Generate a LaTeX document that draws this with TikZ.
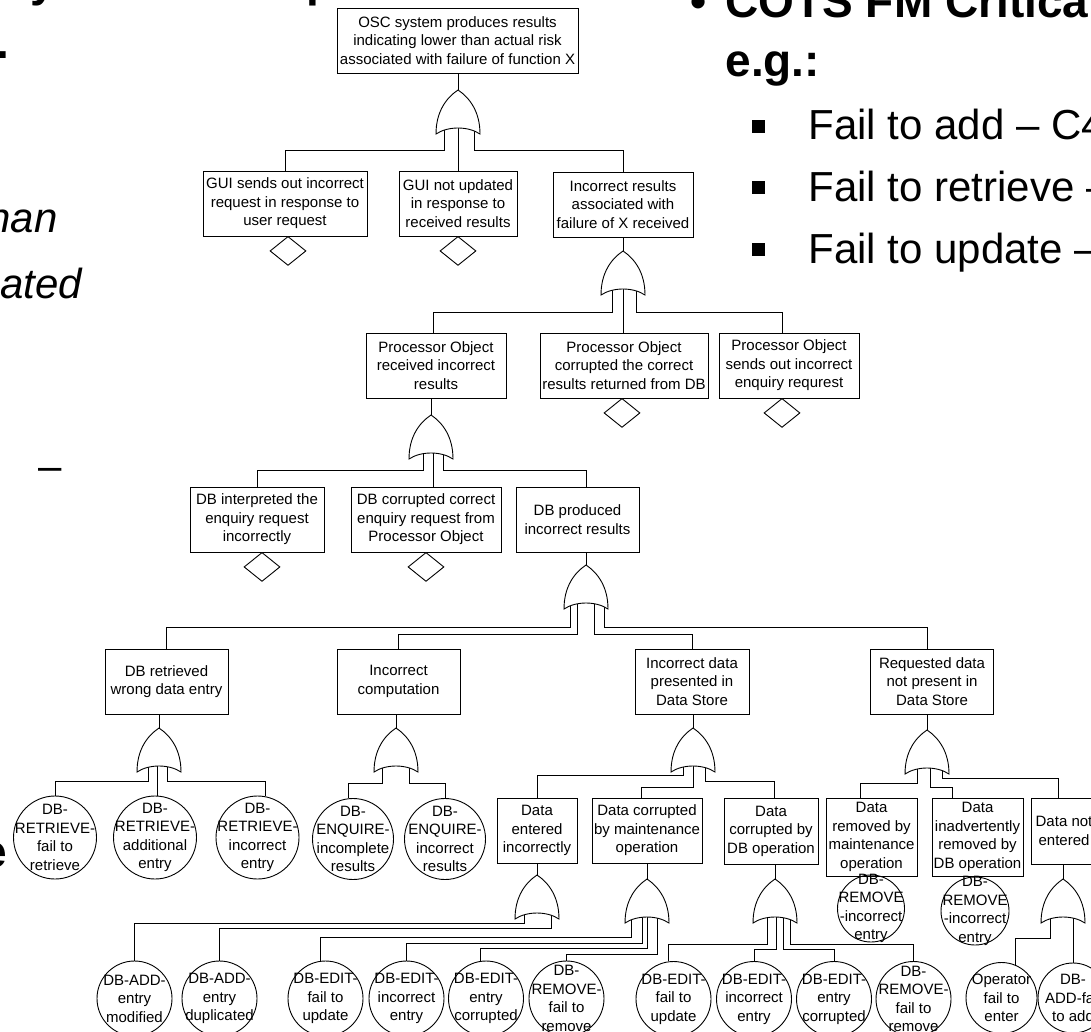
\documentclass[tikz,border=0pt]{standalone}
\usepackage{fontspec}
\setmainfont{Liberation Sans}
\usetikzlibrary{shapes.geometric,calc}
\begin{document}
\begin{tikzpicture}[x=1pt,y=-1pt,line width=0.9pt,
  every node/.style={inner sep=0pt},
  evbox/.style={draw,rectangle,fill=white,align=center,font=\fontsize{15}{18.5}\selectfont},
  evc/.style={draw,circle,minimum size=#1},
  evt/.style={align=center,font=\fontsize{15}{18.5}\selectfont},
  undev/.style={draw,diamond,fill=white,minimum width=36pt,minimum height=29pt,anchor=north},
  bsq/.style={fill=black,minimum size=13pt},
  slide/.style={font=\fontsize{42}{50}\selectfont},
  slideb/.style={font=\bfseries\fontsize{46}{55}\selectfont},
  slidei/.style={font=\itshape\fontsize{42}{50}\selectfont},
  orgate/.pic={\draw[fill=white] (-22,44) .. controls (-22,22) and (-12,8) .. (0,0)
      .. controls (12,8) and (22,22) .. (22,44)
      .. controls (10,36) and (-10,36) .. (-22,44) -- cycle;}
]
\useasboundingbox (0,0) rectangle (1091,1032);
\fill[white] (0,0) rectangle (1091,1032);

% ---------- slide text behind the diagram ----------
\node[slideb,anchor=base west] (s0) at (690,18) {\textbullet};
\node[slideb,anchor=base west] (s1) at (725,18) {COTS FM Critica};
\node[slideb,anchor=base west] (s2) at (725,77) {e.g.:};
\node[bsq] (q1) at (758.5,126.5) {};
\node[bsq] (q2) at (758.5,188) {};
\node[bsq] (q3) at (758.5,249.5) {};
\node[slide,anchor=base west] (s3) at (808,140) {Fail to add -- C4};
\node[slide,anchor=base west] (s4) at (808,202) {Fail to retrieve --};
\node[slide,anchor=base west] (s5) at (808,263) {Fail to update --};
\node[slideb,anchor=base west] (s11) at (30,-3) {y};
\node[slideb,anchor=base west] (s12) at (306,-3) {p};
\node[slideb,anchor=base west] (s6) at (-4,59) {.};
\node[slidei,anchor=base east] (s7) at (58,233) {than};
\node[slidei,anchor=base west] (s8) at (0,298) {ated};
\node[slide,anchor=base west] (s9) at (38,480) {--};
\node[slideb,anchor=base east] (s10) at (8,867) {e};

% ---------- gate positions (apex) ----------
\coordinate (g1) at (458,90);
\coordinate (g2) at (623,251);
\coordinate (g3) at (431,415);
\coordinate (g4) at (586,565);
\coordinate (g5) at (159,728);
\coordinate (g6) at (396,728);
\coordinate (g7) at (693,728);
\coordinate (g8) at (927,730);
\coordinate (g9) at (1063,879);
\coordinate (g10) at (537,875);
\coordinate (g11) at (647,879);
\coordinate (g12) at (775,879);

% ---------- events ----------
\node[evbox,minimum width=241pt,minimum height=65pt] (T0) at (457.5,40.5) {OSC system produces results\\indicating lower than actual risk\\associated with failure of function X};
\node[evbox,minimum width=164pt,minimum height=65pt] (A1) at (285,203.5) {GUI sends out incorrect\\request in response to\\user request};
\node[evbox,minimum width=118pt,minimum height=65pt] (A2) at (458,203.5) {GUI not updated\\in response to\\received results};
\node[evbox,minimum width=140pt,minimum height=65pt] (A3) at (623,204.5) {Incorrect results\\associated with\\failure of X received};
\node[evbox,minimum width=140pt,minimum height=65pt] (B1) at (436,365.5) {Processor Object\\received incorrect\\results};
\node[evbox,minimum width=168pt,minimum height=65pt] (B2) at (624,365.5) {Processor Object\\corrupted the correct\\results returned from DB};
\node[evbox,minimum width=140pt,minimum height=65pt] (B3) at (789,365.5) {Processor Object\\sends out incorrect\\enquiry requrest};
\node[evbox,minimum width=134pt,minimum height=65pt] (C1) at (257,519.5) {DB interpreted the\\enquiry request\\incorrectly};
\node[evbox,minimum width=150pt,minimum height=65pt] (C2) at (426,519.5) {DB corrupted correct\\enquiry request from\\Processor Object};
\node[evbox,minimum width=123pt,minimum height=65pt] (C3) at (577.5,519.5) {DB produced\\incorrect results};
\node[evbox,minimum width=123pt,minimum height=65pt] (D1) at (166.5,681.5) {DB retrieved\\wrong data entry};
\node[evbox,minimum width=123pt,minimum height=65pt] (D2) at (398.5,681.5) {Incorrect\\computation};
\node[evbox,minimum width=114pt,minimum height=65pt] (D3) at (692,681.5) {Incorrect data\\presented in\\Data Store};
\node[evbox,minimum width=123pt,minimum height=65pt] (D4) at (932,681.5) {Requested data\\not present in\\Data Store};
\node[evbox,minimum width=80pt,minimum height=65pt] (F1) at (537,830.5) {Data\\entered\\incorrectly};
\node[evbox,minimum width=110pt,minimum height=65pt] (F2) at (647,830.5) {Data corrupted\\by maintenance\\operation};
\node[evbox,minimum width=94pt,minimum height=66pt] (F3) at (771,831) {Data\\corrupted by\\DB operation};
\node[evbox,minimum width=91pt,minimum height=78pt] (G1) at (871.5,837) {Data\\removed by\\maintenance\\operation};
\node[evbox,minimum width=91pt,minimum height=78pt] (G2) at (977.5,837) {Data\\inadvertently\\removed by\\DB operation};
\node[evbox,minimum width=66pt,minimum height=66pt] (G3) at (1064,831) {Data not\\entered};

% undeveloped events
\node[undev] (uA1) at (288,236) {};
\node[undev] (uA2) at (458,236) {};
\node[undev] (uB2) at (622,398) {};
\node[undev] (uB3) at (782,398) {};
\node[undev] (uC1) at (262,552) {};
\node[undev] (uC2) at (426,552) {};

% basic events
\node[evc=83pt] (E1) at (55,837.5) {};
\node[evc=83pt] (E2) at (155,837.5) {};
\node[evc=83pt] (E3) at (257.5,837.5) {};
\node[evc=81pt] (E4) at (353,839) {};
\node[evc=81pt] (E5) at (445,839) {};
\node[evc=75pt] (J1) at (134.5,998.5) {};
\node[evc=75pt] (J2) at (219.5,998.5) {};
\node[evc=75pt] (J3) at (325.5,998.5) {};
\node[evc=75pt] (J4) at (406.5,998.5) {};
\node[evc=75pt] (J5) at (486,998.5) {};
\node[evc=75pt] (J6) at (566.5,998.5) {};
\node[evc=75pt] (K1) at (673.5,999) {};
\node[evc=75pt] (K2) at (754,999) {};
\node[evc=75pt] (K3) at (834,999) {};
\node[evc=75pt] (K4) at (913.5,999) {};
\node[evc=67pt] (L1) at (871,908.5) {};
\node[evc=68pt] (L2) at (975,911) {};
\node[evc=71pt] (H1) at (1001.5,998) {};
\node[evc=70pt] (H2) at (1073,998) {};

\node[evt] (E1t) at (E1) {DB-\\RETRIEVE-\\fail to\\retrieve};
\node[evt] (E2t) at (E2) {DB-\\RETRIEVE-\\additional\\entry};
\node[evt] (E3t) at (E3) {DB-\\RETRIEVE-\\incorrect\\entry};
\node[evt] (E4t) at (E4) {DB-\\ENQUIRE-\\incomplete\\results};
\node[evt] (E5t) at (E5) {DB-\\ENQUIRE-\\incorrect\\results};
\node[evt] (J1t) at (J1) {DB-ADD-\\entry\\modified};
\node[evt] (J2t) at (J2) {DB-ADD-\\entry\\duplicated};
\node[evt] (J3t) at (J3) {DB-EDIT-\\fail to\\update};
\node[evt] (J4t) at (J4) {DB-EDIT-\\incorrect\\entry};
\node[evt] (J5t) at (J5) {DB-EDIT-\\entry\\corrupted};
\node[evt] (J6t) at (J6) {DB-\\REMOVE-\\fail to\\remove};
\node[evt] (K1t) at (K1) {DB-EDIT-\\fail to\\update};
\node[evt] (K2t) at (K2) {DB-EDIT-\\incorrect\\entry};
\node[evt] (K3t) at (K3) {DB-EDIT-\\entry\\corrupted};
\node[evt] (K4t) at (K4) {DB-\\REMOVE-\\fail to\\remove};
\node[evt] (L1t) at (L1) {DB-\\REMOVE\\-incorrect\\entry};
\node[evt] (L2t) at (L2) {DB-\\REMOVE\\-incorrect\\entry};
\node[evt] (H1t) at (H1) {Operator\\fail to\\enter};
\node[evt] (H2t) at (H2) {DB-\\ADD-fail\\to add};

% ---------- connectors ----------
\draw (g1 |- T0.south) -- (g1);
\draw ($(g1)+(-14,30)$) -- ($(g1)+(-14,60)$) -| (A1.north);
\draw ($(g1)+(0,30)$) -- (g1 |- A2.north);
\draw ($(g1)+(16,30)$) -- ($(g1)+(16,60)$) -| (A3.north);

\draw (g2 |- A3.south) -- (g2);
\draw ($(g2)+(-11,30)$) -- ($(g2)+(-11,61)$) -| ($(B1.north)+(-3,0)$);
\draw ($(g2)+(0,30)$) -- (g2 |- B2.north);
\draw ($(g2)+(13,30)$) -- ($(g2)+(13,61)$) -| ($(B3.north)+(-7,0)$);

\draw (g3 |- B1.south) -- (g3);
\draw ($(g3)+(-8,30)$) -- ($(g3)+(-8,55)$) -| (C1.north);
\draw ($(g3)+(2,30)$) -- ($(C2.north)+(7,0)$);
\draw ($(g3)+(12,30)$) -- ($(g3)+(12,55)$) -| (g4 |- C3.north);

\draw (g4 |- C3.south) -- (g4);
\draw ($(g4)+(-16,30)$) -- ($(g4)+(-16,62)$) -| (D1.north);
\draw ($(g4)+(-9,30)$) -- ($(g4)+(-9,69)$) -| (D2.north);
\draw ($(g4)+(8,30)$) -- ($(g4)+(8,69)$) -| (D3.north);
\draw ($(g4)+(18,30)$) -- ($(g4)+(18,62)$) -| (g8 |- D4.north);

\draw (g5 |- D1.south) -- (g5);
\draw ($(g5)+(-11,30)$) -- ($(g5)+(-11,53)$) -| (E1.north);
\draw ($(g5)+(-2,30)$) -- ($(E2.north)+(2,0)$);
\draw ($(g5)+(8,30)$) -- ($(g5)+(8,53)$) -| (E3.79);

\draw (g6 |- D2.south) -- (g6);
\draw ($(g6)+(-14,30)$) -- ($(g6)+(-14,55)$) -| (E4.97);
\draw ($(g6)+(13,30)$) -- ($(g6)+(13,55)$) -| (E5.north);

\draw (g7 |- D3.south) -- (g7);
\draw ($(g7)+(-10,30)$) -- ($(g7)+(-10,47)$) -| (F1.north);
\draw ($(g7)+(0,30)$) -- ($(g7)+(0,59)$) -| ($(F2.north)+(-6,0)$);
\draw ($(g7)+(12,30)$) -- ($(g7)+(12,53)$) -| ($(F3.north)+(3,0)$);

\draw (g8 |- D4.south) -- (g8);
\draw ($(g8)+(-10,30)$) -- ($(g8)+(-10,53)$) -| ($(G1.north)+(-11,0)$);
\draw ($(g8)+(3,30)$) -- ($(g8)+(3,57)$) -| ($(G2.north)+(-25,0)$);
\draw ($(g8)+(15,30)$) -- ($(g8)+(15,48)$) -| ($(G3.north)+(-6,0)$);

\draw (g9 |- G3.south) -- (g9);
\draw ($(g9)+(-13,30)$) -- ($(g9)+(-13,59)$) -| (H1.68);
\draw ($(g9)+(10,30)$) -- (H2.north);

\draw (g10 |- F1.south) -- (g10);
\draw ($(g10)+(-13,30)$) -- ($(g10)+(-13,48)$) -| (J1.north);
\draw ($(g10)+(14,30)$) -- ($(g10)+(14,53)$) -| (J2.north);

\draw (g11 |- F2.south) -- (g11);
\draw ($(g11)+(-16,30)$) -- ($(g11)+(-16,58)$) -| (J3.97);
\draw ($(g11)+(-5,30)$) -- ($(g11)+(-5,64)$) -| (J4.north);
\draw ($(g11)+(0,30)$) -- ($(g11)+(0,69)$) -| (J5.98);
\draw ($(g11)+(10,30)$) -- ($(g11)+(10,75)$) -| (J6.north);

\draw (g12 |- F3.south) -- (g12);
\draw ($(g12)+(-8,30)$) -- ($(g12)+(-8,65)$) -| (K1.98);
\draw ($(g12)+(1,30)$) -- ($(g12)+(1,70)$) -| (K2.north);
\draw ($(g12)+(8,30)$) -- ($(g12)+(8,70)$) -| (K3.north);
\draw ($(g12)+(15,30)$) -- ($(g12)+(15,65)$) -| (K4.north);

% ---------- OR gates ----------
\foreach \g in {g1,g2,g3,g4,g5,g6,g7,g8,g9,g10,g11,g12}
  \pic at (\g) {orgate};
\end{tikzpicture}
\end{document}
